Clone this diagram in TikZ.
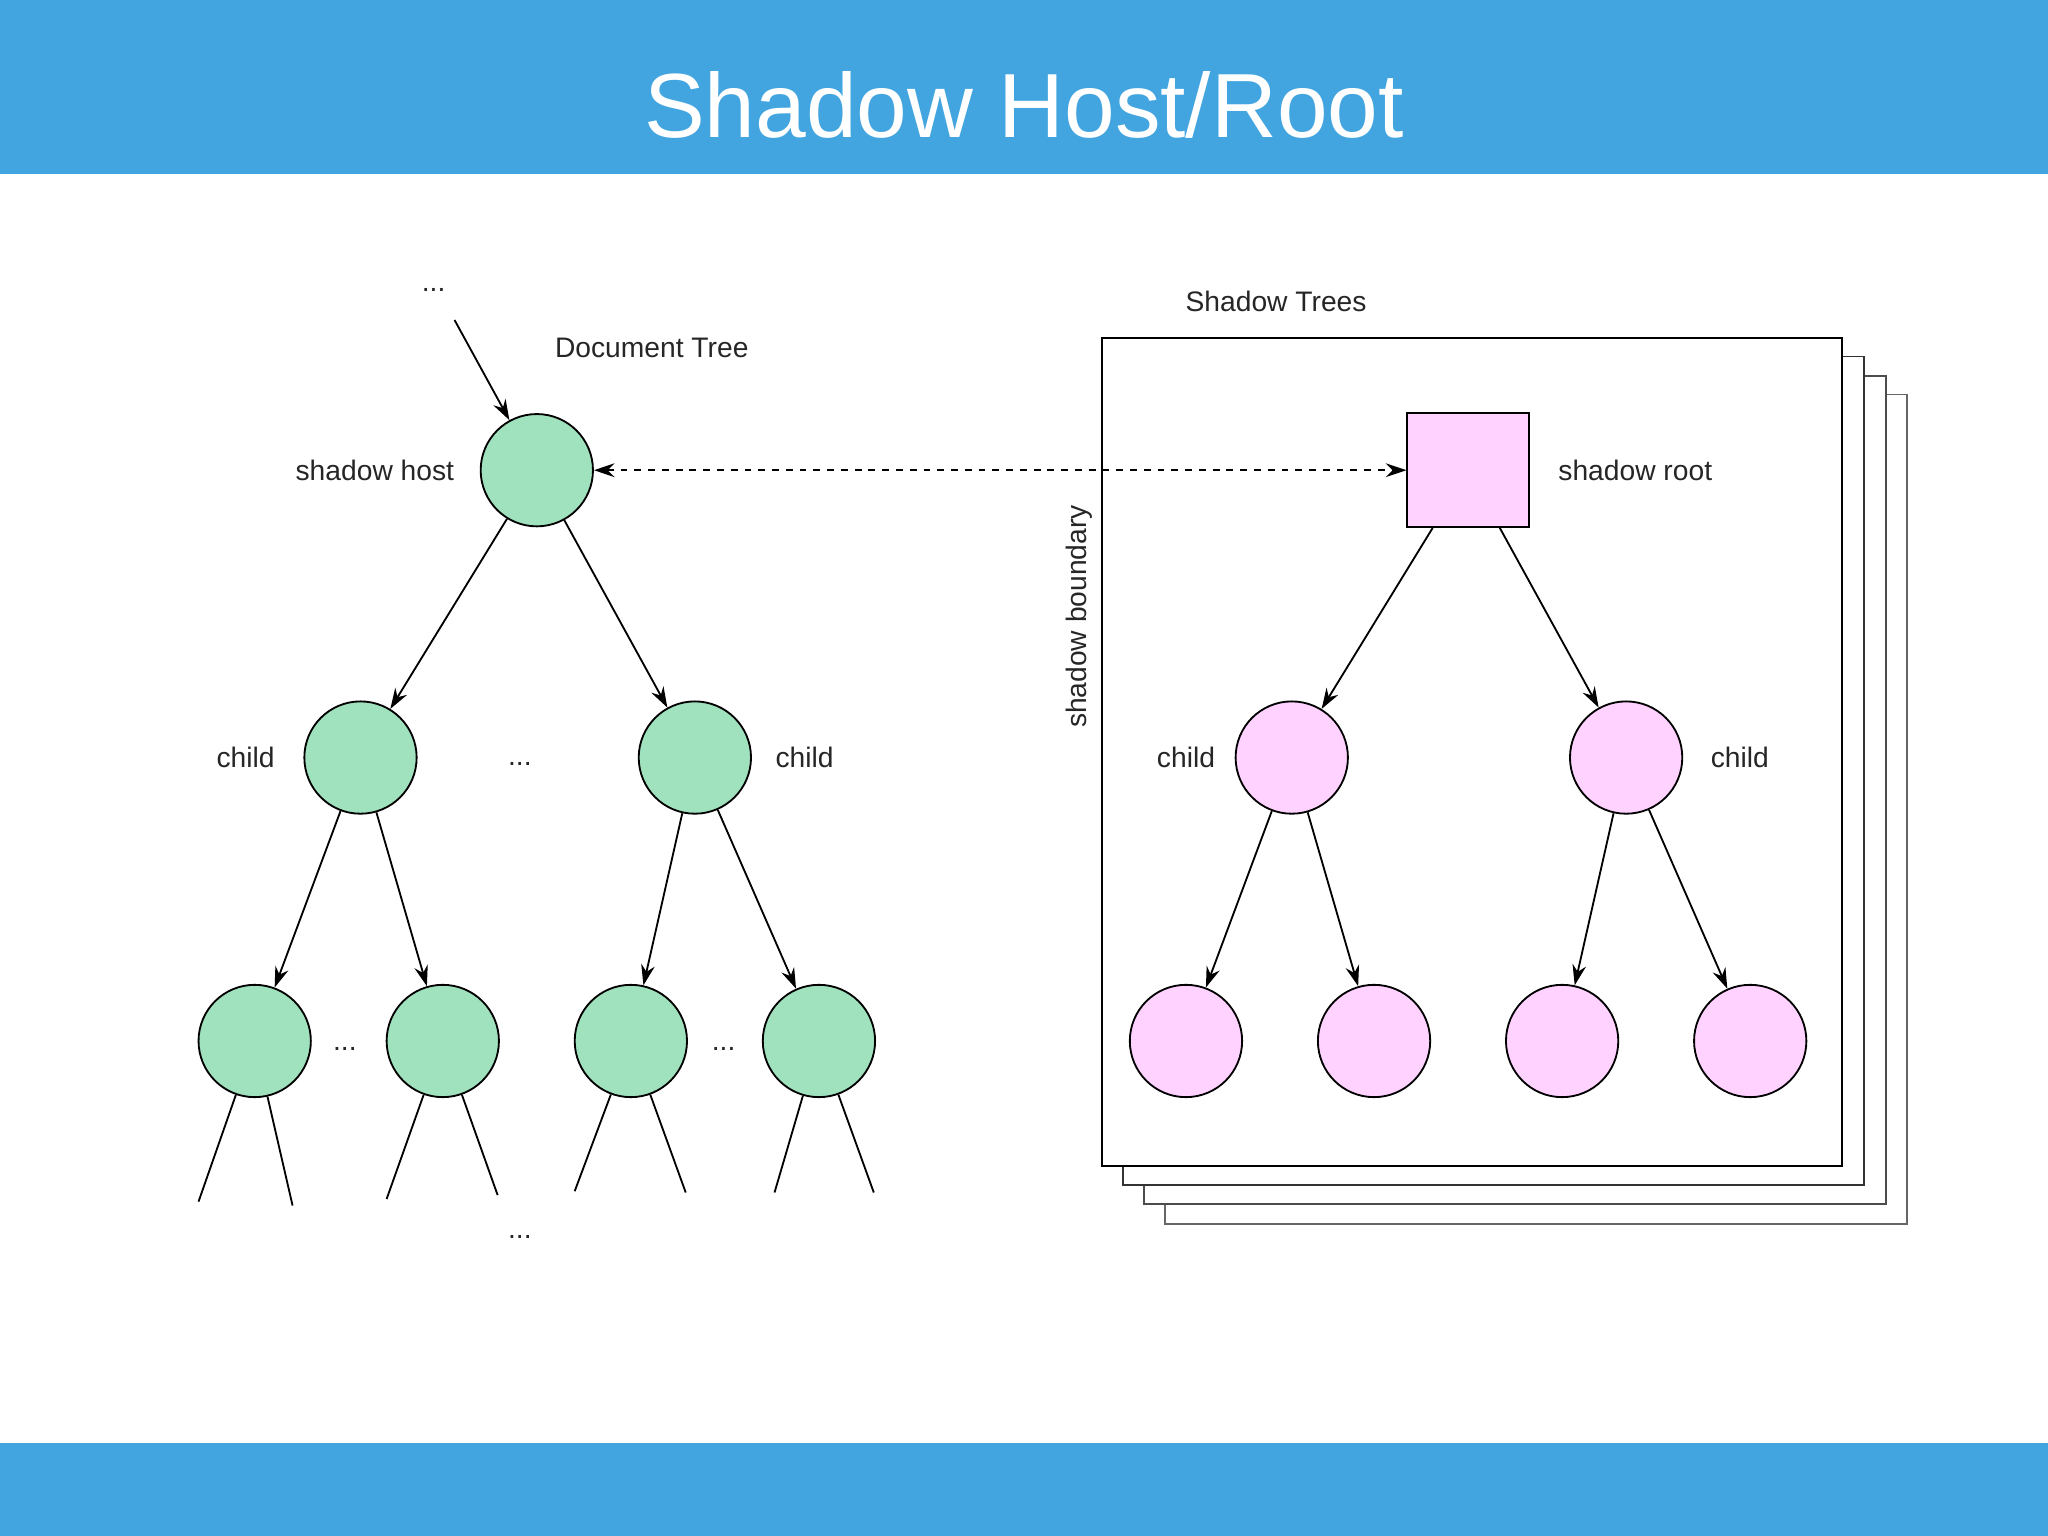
\documentclass[tikz,border=0pt]{standalone}
\usepackage{fontspec}
\setmainfont{Liberation Sans}
\usetikzlibrary{arrows.meta}
\definecolor{bar}{HTML}{42A5E0}
\definecolor{gr}{HTML}{A0E1BE}
\definecolor{pk}{HTML}{FFD2FF}
\begin{document}
\begin{tikzpicture}[x=0.02cm,y=-0.02cm,
  gn/.style={circle,draw,thick,fill=gr,minimum size=1.72cm,inner sep=0},
  pn/.style={circle,draw,thick,fill=pk,minimum size=1.72cm,inner sep=0},
  lbl/.style={font=\fontsize{12.3}{14}\selectfont,text=black!85},
  arr/.style={-{Stealth[length=9pt,width=6pt,inset=3pt]},thick},
  darr/.style={{Stealth[length=9pt,width=6pt,inset=3pt]}-{Stealth[length=9pt,width=6pt,inset=3pt]},thick,dashed},
  pg/.style={draw,thick,fill=white}]
\useasboundingbox (0,0) rectangle (1568,1176);
\fill[bar] (0,0) rectangle (1568,133);
\fill[bar] (0,1105) rectangle (1568,1176);
\node[text=white,font=\fontsize{39.7}{46}\selectfont] (title) at (784,80) {Shadow Host/Root};
% pages
\draw[pg,draw=black!60] (892,302) rectangle (1460,937);
\draw[pg,draw=black!70] (876,288) rectangle (1444,922);
\draw[pg,draw=black!80] (860,273) rectangle (1427,907);
\draw[pg] (844,259) rectangle (1410,893);
\node[lbl] (st) at (977,231) {Shadow Trees};
\node[lbl,rotate=90] (sb) at (826,472) {shadow boundary};
% doc tree
\node[gn] (h) at (411,360) {};
\node[gn] (c1) at (276,580) {};
\node[gn] (c2) at (532,580) {};
\node[gn] (l1) at (195,797) {};
\node[gn] (l2) at (339,797) {};
\node[gn] (l3) at (483,797) {};
\node[gn] (l4) at (627,797) {};
\node[lbl] (d0) at (332,222) {...};
\coordinate (top) at (348,245);
\draw[arr] (top) -- (h);
\node[lbl] (dt) at (499,266) {Document Tree};
\node[lbl] (sh) at (287,360) {shadow host};
\node[lbl] (ch1) at (188,580) {child};
\node[lbl] (ch2) at (616,580) {child};
\node[lbl] (d1) at (398,585) {...};
\node[lbl] (d2) at (264,803) {...};
\node[lbl] (d3) at (554,803) {...};
\node[lbl] (d4) at (398,947) {...};
\draw[arr] (h) -- (c1); \draw[arr] (h) -- (c2);
\draw[arr] (c1) -- (l1); \draw[arr] (c1) -- (l2);
\draw[arr] (c2) -- (l3); \draw[arr] (c2) -- (l4);
\foreach \n/\a/\b/\c/\d in {l1/152/920/224/923, l2/296/918/381/915, l3/440/912/525/913, l4/593/913/669/913}{
  \coordinate (\n a) at (\a,\b); \coordinate (\n b) at (\c,\d);
  \draw[thick] (\n) -- (\n a); \draw[thick] (\n) -- (\n b);}
% shadow tree
\node[draw,thick,fill=pk,minimum width=1.86cm,minimum height=1.74cm,inner sep=0] (r) at (1124,360) {};
\node[lbl] (sr) at (1252,360) {shadow root};
\node[pn] (p1) at (989,580) {};
\node[pn] (p2) at (1245,580) {};
\node[pn] (q1) at (908,797) {};
\node[pn] (q2) at (1052,797) {};
\node[pn] (q3) at (1196,797) {};
\node[pn] (q4) at (1340,797) {};
\node[lbl] (ch3) at (908,580) {child};
\node[lbl] (ch4) at (1332,580) {child};
\draw[arr] (r) -- (p1); \draw[arr] (r) -- (p2);
\draw[arr] (p1) -- (q1); \draw[arr] (p1) -- (q2);
\draw[arr] (p2) -- (q3); \draw[arr] (p2) -- (q4);
\draw[darr] (h) -- (r);
\end{tikzpicture}
\end{document}
